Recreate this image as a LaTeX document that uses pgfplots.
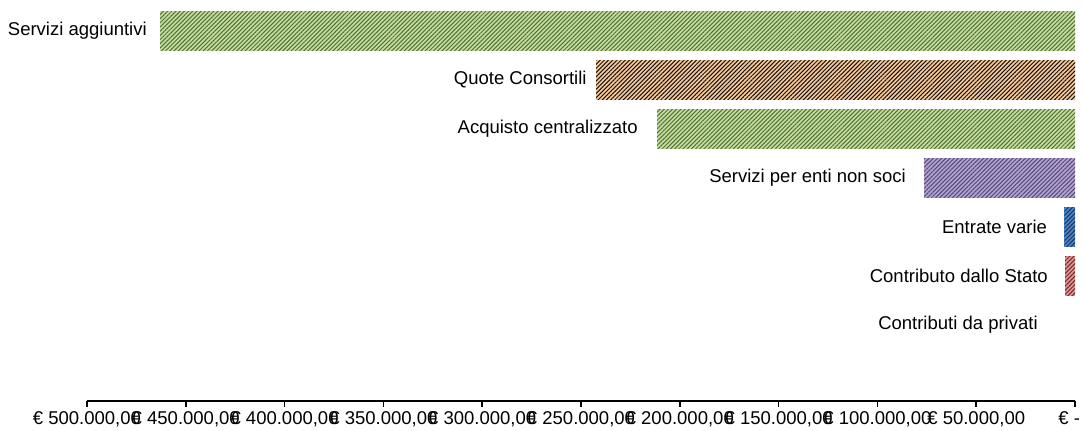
\documentclass[border=0pt]{standalone}
\usepackage{fontspec}
\setmainfont{Liberation Sans}
\usepackage{pgfplots}
\pgfplotsset{compat=1.18}
\usetikzlibrary{patterns.meta}
\definecolor{grbg}{RGB}{196,222,160}
\definecolor{grfg}{RGB}{84,112,52}
\definecolor{orbg}{RGB}{249,200,152}
\definecolor{orfg}{RGB}{20,20,20}
\definecolor{pubg}{RGB}{178,164,210}
\definecolor{pufg}{RGB}{88,72,120}
\definecolor{blbg}{RGB}{74,134,204}
\definecolor{blfg}{RGB}{30,50,90}
\definecolor{rdbg}{RGB}{222,150,150}
\definecolor{rdfg}{RGB}{120,40,40}
\tikzset{hatch/.style={draw=none,fill=#1bg,postaction={pattern={Lines[angle=45,distance=1.6pt,line width=0.55pt]},pattern color=#1fg}}}
\begin{document}
\begin{tikzpicture}
\begin{axis}[
  name=ax,
  scale only axis,
  width=534pt, height=213.2pt,
  xbar, bar width=0.8, bar shift=0pt,
  x dir=reverse,
  xmin=0, xmax=500000,
  ymin=-1.55, ymax=6.5,
  enlargelimits=false,
  axis x line=bottom, axis y line=none,
  axis line style={-, line width=0.8pt, black},
  tick align=outside,
  major tick length=3pt,
  xtick style={line width=0.8pt, black},
  scaled x ticks=false,
  xtick={0,50000,100000,150000,200000,250000,300000,350000,400000,450000,500000},
  xticklabels={{\makebox[0pt][r]{€ -\hspace{-2.7pt}}},{€ 50.000,00},{€ 100.000,00},{€ 150.000,00},{€ 200.000,00},{€ 250.000,00},{€ 300.000,00},{€ 350.000,00},{€ 400.000,00},{€ 450.000,00},{€ 500.000,00}},
  xticklabel style={font=\fontsize{10}{12}\selectfont, inner sep=0pt, yshift=-2.6pt},
  clip=false,
  point meta=explicit symbolic,
  nodes near coords,
  every node near coord/.append style={anchor=east, inner sep=0pt, font=\fontsize{10}{12}\selectfont, text=black},
]
\addplot[hatch=gr, every node near coord/.append style={xshift=-7pt}] coordinates {(463000,6) [Servizi aggiuntivi]};
\addplot[hatch=or, every node near coord/.append style={xshift=-4.9pt}] coordinates {(242400,5) [Quote Consortili]};
\addplot[hatch=gr, every node near coord/.append style={xshift=-10.3pt}] coordinates {(211500,4) [Acquisto centralizzato]};
\addplot[hatch=pu, every node near coord/.append style={xshift=-9.7pt}] coordinates {(76400,3) [Servizi per enti non soci]};
\addplot[hatch=bl, every node near coord/.append style={xshift=-9.2pt}] coordinates {(5400,2) [Entrate varie]};
\addplot[hatch=rd, every node near coord/.append style={xshift=-9.2pt}] coordinates {(5000,1) [Contributo dallo Stato]};
\addplot[draw=none, fill=none, every node near coord/.append style={xshift=-20pt}] coordinates {(0,0) [Contributi da privati]};
\end{axis}
\pgfresetboundingbox
\path ([shift={(-47pt,-15.7pt)}]ax.south west) ([shift={(4.3pt,3.5pt)}]ax.north east);
\end{tikzpicture}
\end{document}
